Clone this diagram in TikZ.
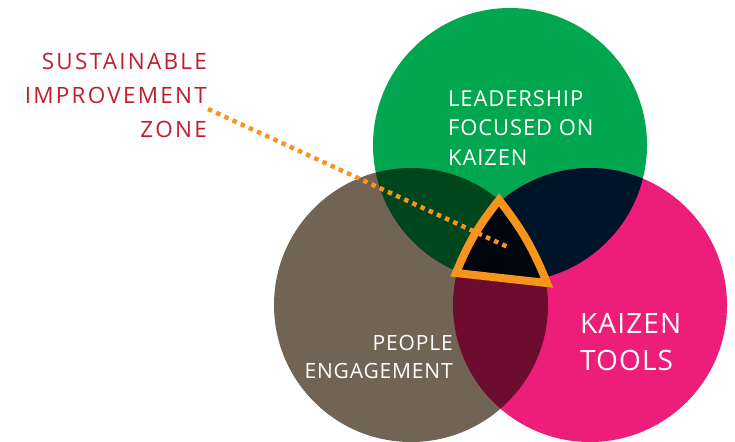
\documentclass[tikz,border=0pt]{standalone}
\usepackage{fontspec}
\setmainfont[LetterSpace=4]{Open Sans}
\newfontfamily\zonefont[LetterSpace=10]{Open Sans}
\definecolor{kgreen}{HTML}{00A650}
\definecolor{kbrown}{HTML}{716454}
\definecolor{kpink}{HTML}{ED1E79}
\definecolor{kdkgreen}{HTML}{00461C}
\definecolor{knavy}{HTML}{001429}
\definecolor{kmaroon}{HTML}{6C0C2E}
\definecolor{kcore}{HTML}{00060E}
\definecolor{korange}{HTML}{F7941D}
\definecolor{kred}{HTML}{BE1E2D}
\tikzset{
  lbl/.style={text=white, inner sep=0pt},
  zonedot/.style={korange, line width=4.5pt, dash pattern=on 4.5pt off 4.5pt},
}
\begin{document}
\begin{tikzpicture}[x=1pt,y=-1pt]
      \useasboundingbox (0,0) rectangle (735,441);
      \coordinate (g) at (510,145);
      \coordinate (b) at (411,305);
      \coordinate (p) at (590,305);
      \fill[kgreen] (g) circle[radius=137pt];
      \fill[kbrown] (b) circle[radius=137pt];
      \fill[kpink] (p) circle[radius=137pt];
      \begin{scope}
        \clip (g) circle[radius=137pt];
        \fill[kdkgreen] (b) circle[radius=137pt];
        \fill[knavy] (p) circle[radius=137pt];
      \end{scope}
      \begin{scope}
        \clip (b) circle[radius=137pt];
        \fill[kmaroon] (p) circle[radius=137pt];
        \clip (g) circle[radius=137pt];
        \fill[kcore] (p) circle[radius=137pt];
      \end{scope}
      \draw
        (448,90) node[lbl, anchor=north west, align=left,
          font=\fontsize{22}{29.5}\selectfont] (lead)
          {LEADERSHIP\\FOCUSED ON\\KAIZEN}
        (453,335) node[lbl, anchor=north east, align=right,
          font=\fontsize{21}{28.5}\selectfont] (people)
          {PEOPLE\\ENGAGEMENT}
        (580,313) node[lbl, anchor=north west, align=left,
          font=\fontsize{28}{37}\selectfont] (tools)
          {KAIZEN\\TOOLS}
        (207,53) node[text=kred, inner sep=0pt, anchor=north east, align=right,
          font=\zonefont\fontsize{22.5}{34}\selectfont] (zone)
          {SUSTAINABLE\\IMPROVEMENT\\ZONE};
      \coordinate (zonetop) at (499,200);
      \coordinate (zoneleft) at (456,273);
      \coordinate (zoneright) at (547,283);
      \draw[korange, line width=8pt, line join=miter]
        (zonetop) to[bend right=8] (zoneleft) -- (zoneright)
        to[bend right=8] (zonetop) -- cycle;
      \coordinate (zonetip) at (208,109);
      \coordinate (zonemid) at (510,248);
      \draw[zonedot] (zonetip) -- (zonemid);
    \end{tikzpicture}
\end{document}
